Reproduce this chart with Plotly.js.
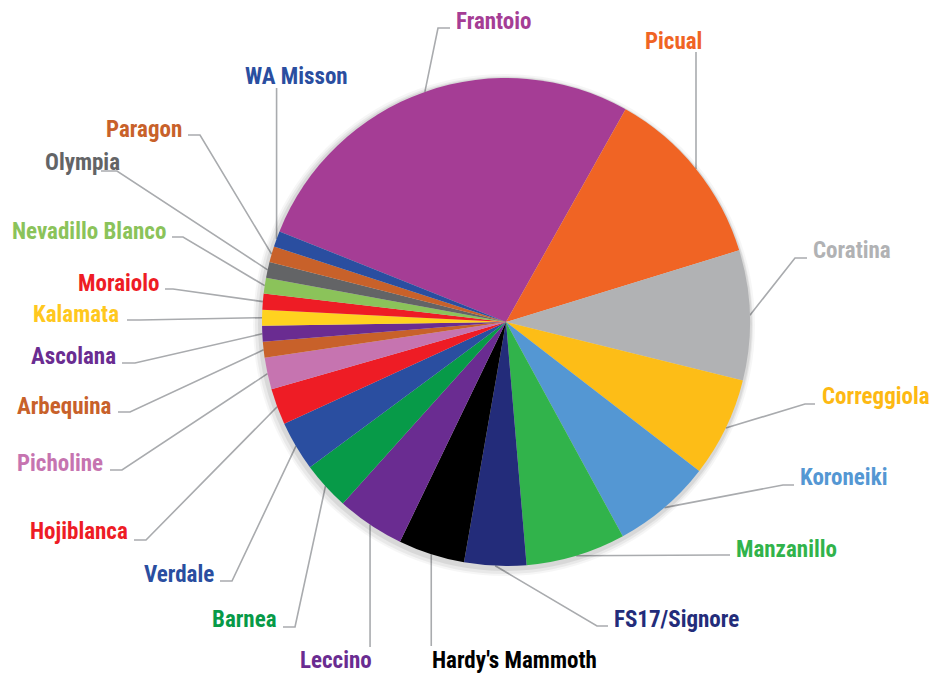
<!DOCTYPE html>
<html>
<head>
<meta charset="utf-8">
<script src="https://cdn.plot.ly/plotly-3.0.1.min.js"></script>
<style>html,body{margin:0;padding:0;background:#fff;}#chart{width:933px;height:674px;}</style>
</head>
<body>
<div id="chart"></div>
<script>
// ---- data ----
const varieties = ["Frantoio","Picual","Coratina","Correggiola","Koroneiki","Manzanillo","FS17/Signore","Hardy's Mammoth","Leccino","Barnea","Verdale","Hojiblanca","Picholine","Arbequina","Ascolana","Kalamata","Moraiolo","Nevadillo Blanco","Olympia","Paragon","WA Misson"];
const shares = [27.1,12.1,8.6,6.6,6.6,6.6,4.1,4.4,4.5,3.2,3.3,2.4,2.1,1.05,1.05,1.05,1.05,1.05,1.05,1.05,1.05];
const sliceColors = ["#A53D95","#F06424","#B1B2B4","#FDBD17","#5497D3","#31B34B","#232C7A","#000000","#6A2C91","#079A48","#2A4EA0","#EE1C25","#C674B0","#C8612A","#6A2C91","#FFD21F","#EE1C25","#8BC35A","#636466","#C8612A","#2A4EA0"];
const labelColors = ["#A53D95","#F06424","#B1B2B4","#FDB913","#5497D3","#31B34B","#232C7A","#000000","#6A2C91","#079A48","#2A4EA0","#EE1C25","#C674B0","#C8612A","#6A2C91","#FFC81F","#EE1C25","#8BC35A","#636466","#C8612A","#2A4EA0"];

// ---- layout (pixel positions of labels and leader elbows) ----
const W = 933, H = 674;
const CX = 506, CY = 322, R = 244, ROT = -68.2;
// tx,ty: label anchor; xa: xanchor; ex,ey: elbow; hx: end of horizontal tail; v: vertical leader ending at ey
const labelLayout = [
  {tx:455, ty:21, xa:'left', ex:438, ey:28, hx:450},
  {tx:673, ty:41, xa:'center', v:true, ey:52},
  {tx:812, ty:251, xa:'left', ex:795, ey:258, hx:807},
  {tx:821, ty:396, xa:'left', ex:805, ey:404, hx:815},
  {tx:799, ty:478, xa:'left', ex:783, ey:485, hx:794},
  {tx:735, ty:549, xa:'left', ex:720, ey:555, hx:730},
  {tx:613, ty:619, xa:'left', ex:597, ey:626, hx:608},
  {tx:431, ty:660, xa:'left', v:true, ey:646},
  {tx:373, ty:660, xa:'right', v:true, ey:647},
  {tx:278, ty:619, xa:'right', ex:295, ey:627, hx:283},
  {tx:215, ty:574, xa:'right', ex:232, ey:581, hx:220},
  {tx:129, ty:531, xa:'right', ex:146, ey:540, hx:134},
  {tx:104, ty:463, xa:'right', ex:122, ey:470, hx:110},
  {tx:113, ty:406, xa:'right', ex:130, ey:412, hx:118},
  {tx:117, ty:356, xa:'right', ex:135, ey:363, hx:122},
  {tx:120, ty:314, xa:'right', ex:140, ey:320, hx:127},
  {tx:160, ty:283, xa:'right', ex:173, ey:289, hx:165},
  {tx:167, ty:231, xa:'right', ex:183, ey:237, hx:172},
  {tx:121, ty:163, xa:'right', ex:117, ey:171, hx:101},
  {tx:183, ty:129, xa:'right', ex:200, ey:135, hx:188},
  {tx:244, ty:76, xa:'left', v:true, ey:88}
];
// soft shadow rings behind the pie: [extra radius, dx, dy, opacity]
const shadowRings = [[7,-2,3,0.035],[5,-2,3,0.05],[3,-1,2,0.07]];

const px = x => x / W;
const py = y => 1 - y / H;
const fontFam = "'Liberation Sans Narrow','Arial Narrow','Roboto Condensed','Liberation Sans',sans-serif";

const total = shares.reduce((a,b)=>a+b,0);
let cum = 0;
const shapes = [], annotations = [];
shares.forEach((v,i) => {
  const mid = (ROT + (cum + v/2) / total * 360) * Math.PI / 180;
  cum += v;
  const sx = CX + R * Math.sin(mid), sy = CY - R * Math.cos(mid);
  const L = labelLayout[i];
  let path;
  if (L.v) {
    path = `M ${px(sx)} ${py(sy)} L ${px(sx)} ${py(L.ey)}`;
  } else {
    path = `M ${px(sx)} ${py(sy)} L ${px(L.ex)} ${py(L.ey)} L ${px(L.hx)} ${py(L.ey)}`;
  }
  shapes.push({type:'path', xref:'paper', yref:'paper', path:path, line:{color:'#A9ABAE', width:1.6}, layer:'below'});
  annotations.push({
    xref:'paper', yref:'paper', x:px(L.tx), y:py(L.ty), xanchor:L.xa, yanchor:'middle',
    text: varieties[i], showarrow:false, borderpad:0,
    font:{family:fontFam, size:23, color:labelColors[i], weight:700}
  });
});

const traces = shadowRings.map(s => ({
  type:'pie', labels:['shadow'], values:[1], sort:false, textinfo:'none', hoverinfo:'skip',
  marker:{colors:[`rgba(0,0,0,${s[3]})`], line:{width:0}},
  domain:{x:[px(CX+s[1]-R-s[0]), px(CX+s[1]+R+s[0])], y:[py(CY+s[2]+R+s[0]), py(CY+s[2]-R-s[0])]},
  showlegend:false
}));
traces.push({
  type:'pie', labels:varieties, values:shares, sort:false, direction:'clockwise', rotation:ROT,
  marker:{colors:sliceColors, line:{width:0}},
  textinfo:'none', hoverinfo:'label+percent',
  domain:{x:[px(CX-R), px(CX+R)], y:[py(CY+R), py(CY-R)]},
  showlegend:false
});

Plotly.newPlot('chart', traces, {
  width:W, height:H, margin:{l:0,r:0,t:0,b:0},
  paper_bgcolor:'#ffffff', showlegend:false,
  shapes:shapes, annotations:annotations
}, {displayModeBar:false, staticPlot:true});
</script>
</body>
</html>
